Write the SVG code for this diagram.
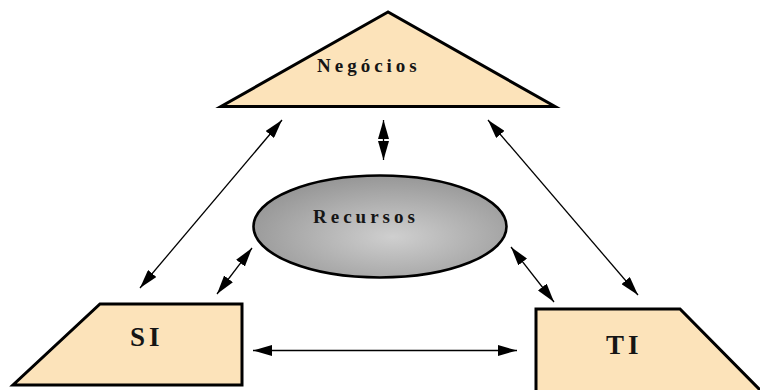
<svg xmlns="http://www.w3.org/2000/svg" width="760" height="390" viewBox="0 0 760 390">
  <style>
    .shape { fill: #FCE3BA; stroke: #000; stroke-width: 3; stroke-linejoin: miter; }
    .label { font-family: "Liberation Serif", "Times New Roman", serif; font-weight: bold; fill: #151515; }
    .small { font-size: 19px; letter-spacing: 4px; }
    .big { font-size: 27px; letter-spacing: 4px; }
    .link { stroke: #000; stroke-width: 1.3; fill: none; marker-start: url(#head); marker-end: url(#head); }
  </style>
  <defs>
    <marker id="head" viewBox="0 0 19 11" refX="19" refY="5.5" markerWidth="19" markerHeight="11" markerUnits="userSpaceOnUse" orient="auto-start-reverse">
      <path d="M0,0 L19,5.5 L0,11 z" fill="#000"/>
    </marker>
    <radialGradient id="grey" cx="0.55" cy="0.6" r="0.6">
      <stop offset="0" stop-color="#cfcfcf"/>
      <stop offset="1" stop-color="#979797"/>
    </radialGradient>
  </defs>

  <rect width="760" height="390" fill="#fff"/>

  <!-- connectors -->
  <g id="connectors">
    <line class="link" x1="383.5" y1="120" x2="383.5" y2="160"/>
    <line class="link" x1="140" y1="288" x2="282" y2="120"/>
    <line class="link" x1="217" y1="294" x2="252" y2="248"/>
    <line class="link" x1="488" y1="120" x2="638" y2="295"/>
    <line class="link" x1="511" y1="247" x2="554" y2="302"/>
    <line class="link" x1="253" y1="350.5" x2="517" y2="350.5"/>
  </g>

  <!-- business layer -->
  <g id="negocios">
    <polygon class="shape" points="388,12 221,106.5 555,106.5"/>
    <text class="label small" x="317" y="72">Negócios</text>
  </g>

  <!-- shared resources -->
  <g id="recursos">
    <ellipse cx="380" cy="226.5" rx="126.5" ry="51" fill="url(#grey)" stroke="#000" stroke-width="2.6"/>
    <text class="label small" x="313" y="223">Recursos</text>
  </g>

  <!-- information systems -->
  <g id="si">
    <polygon class="shape" points="100,304 242,304 242,385 13,385"/>
    <text class="label big" x="130" y="346">SI</text>
  </g>

  <!-- information technology -->
  <g id="ti">
    <polygon class="shape" points="536,309 680,309 764,394 536,394"/>
    <text class="label big" x="606" y="354">TI</text>
  </g>
</svg>
